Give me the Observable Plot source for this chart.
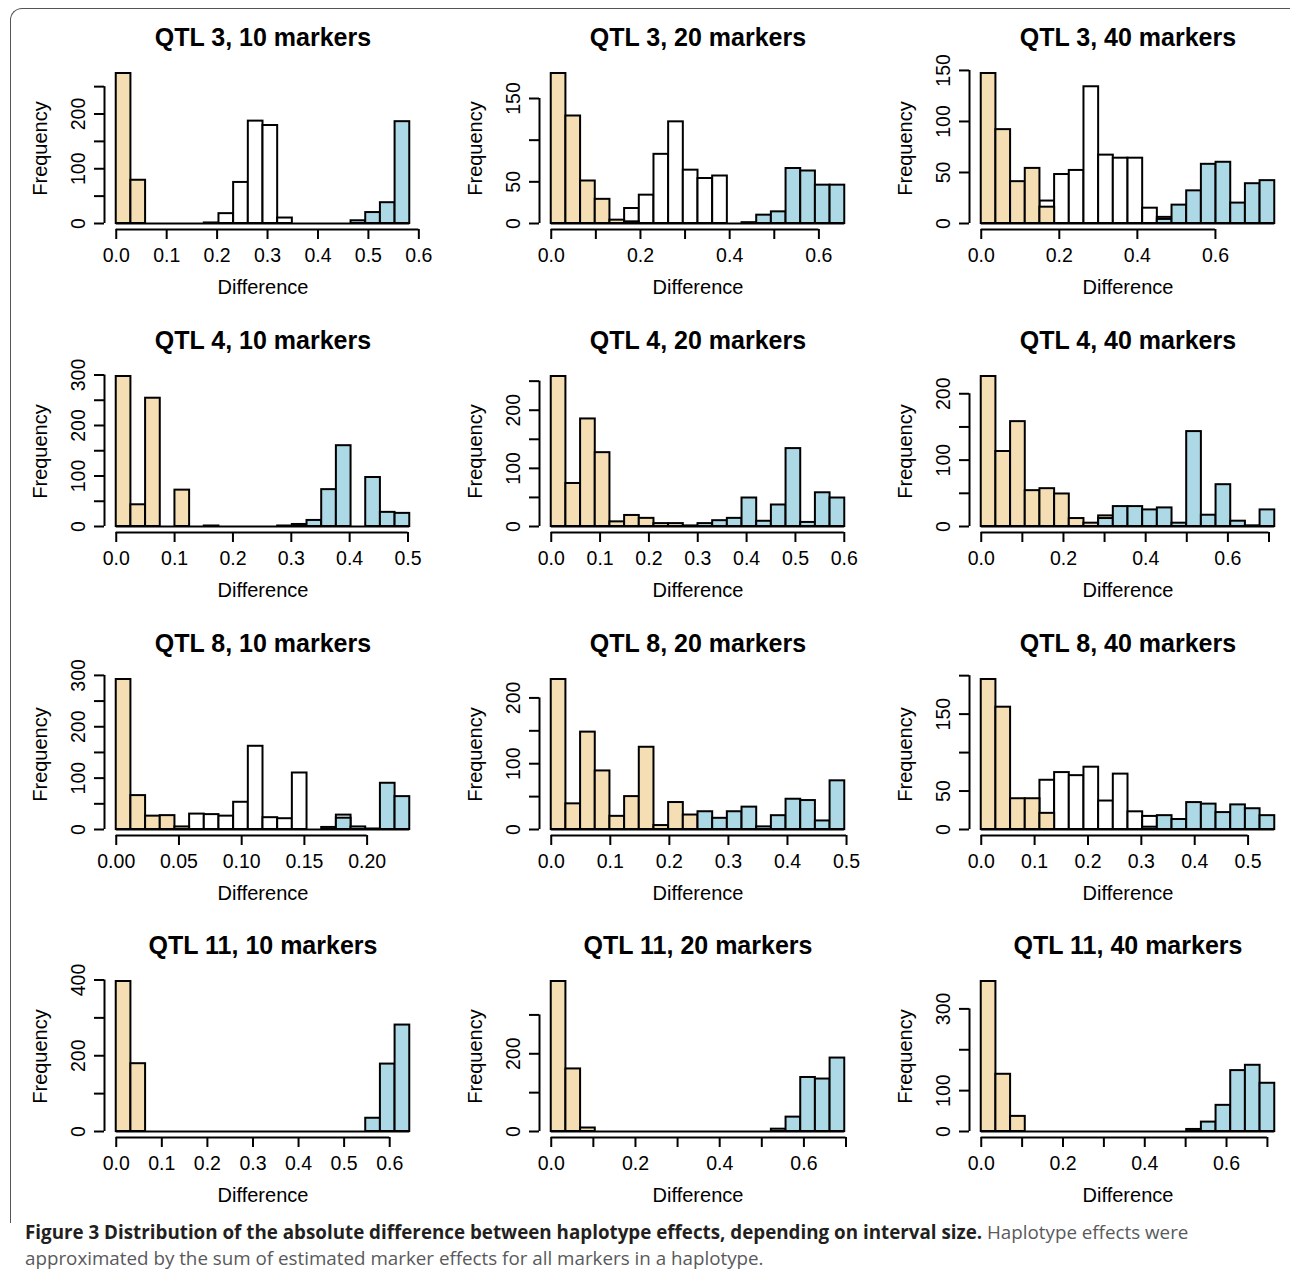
<!DOCTYPE html>
<html><head><meta charset="utf-8">
<script src="https://cdn.jsdelivr.net/npm/d3@7"></script>
<script src="https://cdn.jsdelivr.net/npm/@observablehq/plot@0.6"></script>
<style>
body{margin:0;background:#fff;width:1290px;height:1276px;overflow:hidden;position:relative;font-family:"Liberation Sans",Arial,sans-serif}
#frame{position:absolute;left:10px;top:8px;width:1300px;height:1214px;border:1.5px solid #555;border-right:none;border-bottom:none;border-top-left-radius:12px;}
.panel{position:absolute}
.cap{position:absolute;left:25px;white-space:nowrap;font-family:"Open Sans",sans-serif;font-size:18.8px;line-height:26px;color:#58595b}
.cap .b{color:#231f20;font-weight:700}
</style></head><body>
<div id="frame"></div>
<div id="panels"></div>
<div class="cap" style="top:1219px"><span class="b">Figure 3 Distribution of the absolute difference between haplotype effects, depending on interval size.</span><span> Haplotype effects were</span></div>
<div class="cap" style="top:1245px"><span>approximated by the sum of estimated marker effects for all markers in a haplotype.</span></div>
<script>
// ---- titles ----
const titles = ["QTL 3, 10 markers","QTL 3, 20 markers","QTL 3, 40 markers",
  "QTL 4, 10 markers","QTL 4, 20 markers","QTL 4, 40 markers",
  "QTL 8, 10 markers","QTL 8, 20 markers","QTL 8, 40 markers",
  "QTL 11, 10 markers","QTL 11, 20 markers","QTL 11, 40 markers"];
// upper end of the 20 histogram bins (bins start at 0)
const binMax = [0.582,0.658,0.752, 0.503,0.601,0.714, 0.234,0.497,0.55, 0.644,0.697,0.718];

// ---- counts per bin (20 bins) ----
const qtl3_m10_white = [0,0,0,0,0,0,1,18,75,187,179,10,0,0,0,0,0,0,0,0];
const qtl3_m10_tan   = [274,79,0,0,0,0,0,0,0,0,0,0,0,0,0,0,0,0,0,0];
const qtl3_m10_blue  = [0,0,0,0,0,0,0,0,0,0,0,0,0,0,0,0,5,20,38,186];

const qtl3_m20_white = [0,0,0,0,0,18,34,83,122,64,54,57,0,0,0,0,0,0,0,0];
const qtl3_m20_tan   = [180,129,51,29,4,2,0,0,0,0,0,0,0,0,0,0,0,0,0,0];
const qtl3_m20_blue  = [0,0,0,0,0,0,0,0,0,0,0,0,0,1,10,14,66,63,46,46];

const qtl3_m40_white = [0,0,0,0,22,48,52,134,67,64,64,15,6,0,0,0,0,0,0,0];
const qtl3_m40_tan   = [147,92,41,54,16,0,0,0,0,0,0,0,0,0,0,0,0,0,0,0];
const qtl3_m40_blue  = [0,0,0,0,0,0,0,0,0,0,0,0,4,18,32,58,60,20,39,42];

const qtl4_m10_white = [0,0,0,0,0,0,0,0,0,0,0,1,0,0,0,0,0,0,0,0];
const qtl4_m10_tan   = [297,43,254,0,72,0,1,0,0,0,0,0,0,0,0,0,0,0,0,0];
const qtl4_m10_blue  = [0,0,0,0,0,0,0,0,0,0,0,0,4,12,73,160,0,97,28,26];

const qtl4_m20_white = [0,0,0,0,0,0,0,0,0,0,0,0,0,0,0,0,0,0,0,0];
const qtl4_m20_tan   = [258,74,185,127,8,19,14,5,5,1,0,0,0,0,0,0,0,0,0,0];
const qtl4_m20_blue  = [0,0,0,0,0,0,0,0,0,0,5,10,14,49,9,37,134,7,58,49];

const qtl4_m40_white = [0,0,0,0,0,0,0,0,0,0,0,0,0,0,0,0,0,0,0,0];
const qtl4_m40_tan   = [226,113,158,54,57,49,12,5,16,0,0,0,0,0,0,0,0,0,0,0];
const qtl4_m40_blue  = [0,0,0,0,0,0,0,0,12,30,30,25,28,5,143,17,63,8,1,25];

const qtl8_m10_white = [0,0,0,0,0,30,29,26,53,162,23,21,110,0,0,28,0,0,0,0];
const qtl8_m10_tan   = [292,66,26,27,5,0,0,0,0,0,0,0,0,0,0,0,0,0,0,0];
const qtl8_m10_blue  = [0,0,0,0,0,0,0,0,0,0,0,0,0,0,4,22,5,1,90,64];

const qtl8_m20_white = [0,0,0,0,0,0,0,0,0,0,0,0,0,0,0,0,0,0,0,0];
const qtl8_m20_tan   = [228,39,148,89,20,50,125,6,41,22,0,0,0,0,0,0,0,0,0,0];
const qtl8_m20_blue  = [0,0,0,0,0,0,0,0,0,0,27,17,27,34,4,21,46,44,13,74];

const qtl8_m40_white = [0,0,0,0,64,74,70,81,37,72,23,17,0,0,0,0,0,0,0,0];
const qtl8_m40_tan   = [195,159,40,40,21,0,0,0,0,0,0,0,0,0,0,0,0,0,0,0];
const qtl8_m40_blue  = [0,0,0,0,0,0,0,0,0,0,0,3,18,13,35,33,22,32,27,18];

const qtl11_m10_white = [0,0,0,0,0,0,0,0,0,0,0,0,0,0,0,0,0,0,0,0];
const qtl11_m10_tan   = [396,179,0,0,0,0,0,0,0,0,0,0,0,0,0,0,0,0,0,0];
const qtl11_m10_blue  = [0,0,0,0,0,0,0,0,0,0,0,0,0,0,0,0,0,35,178,281];

const qtl11_m20_white = [0,0,0,0,0,0,0,0,0,0,0,0,0,0,0,0,0,0,0,0];
const qtl11_m20_tan   = [386,161,9,0,0,0,0,0,0,0,0,0,0,0,0,0,0,0,0,0];
const qtl11_m20_blue  = [0,0,0,0,0,0,0,0,0,0,0,0,0,0,0,6,37,139,135,189];

const qtl11_m40_white = [0,0,0,0,0,0,0,0,0,0,0,0,0,0,0,0,0,0,0,0];
const qtl11_m40_tan   = [367,140,37,0,0,0,0,0,0,0,0,0,0,0,0,0,0,0,0,0];
const qtl11_m40_blue  = [0,0,0,0,0,0,0,0,0,0,0,0,0,0,5,23,64,149,162,118];

// ---- axis ticks and labels ----
const xTicks = [
  [0,0.1,0.2,0.3,0.4,0.5,0.6],[0,0.1,0.2,0.3,0.4,0.5,0.6],[0,0.2,0.4,0.6],
  [0,0.1,0.2,0.3,0.4,0.5],[0,0.1,0.2,0.3,0.4,0.5,0.6],[0,0.1,0.2,0.3,0.4,0.5,0.6,0.7],
  [0,0.05,0.1,0.15,0.2],[0,0.1,0.2,0.3,0.4,0.5],[0,0.1,0.2,0.3,0.4,0.5],
  [0,0.1,0.2,0.3,0.4,0.5,0.6],[0,0.1,0.2,0.3,0.4,0.5,0.6,0.7],[0,0.1,0.2,0.3,0.4,0.5,0.6,0.7]];
const xLabels = [
  ["0.0","0.1","0.2","0.3","0.4","0.5","0.6"],["0.0","0.2","0.4","0.6"],["0.0","0.2","0.4","0.6"],
  ["0.0","0.1","0.2","0.3","0.4","0.5"],["0.0","0.1","0.2","0.3","0.4","0.5","0.6"],["0.0","0.2","0.4","0.6"],
  ["0.00","0.05","0.10","0.15","0.20"],["0.0","0.1","0.2","0.3","0.4","0.5"],["0.0","0.1","0.2","0.3","0.4","0.5"],
  ["0.0","0.1","0.2","0.3","0.4","0.5","0.6"],["0.0","0.2","0.4","0.6"],["0.0","0.2","0.4","0.6"]];
const yTicks = [
  [0,50,100,150,200,250],[0,50,100,150],[0,50,100,150],
  [0,50,100,150,200,250,300],[0,50,100,150,200,250],[0,50,100,150,200],
  [0,50,100,150,200,250,300],[0,50,100,150,200],[0,50,100,150,200],
  [0,100,200,300,400],[0,100,200,300],[0,100,200,300]];
const yLabels = [
  [0,100,200],[0,50,150],[0,50,100,150],
  [0,100,200,300],[0,100,200],[0,100,200],
  [0,100,200,300],[0,100,200],[0,50,150],
  [0,200,400],[0,200],[0,100,300]];

const whites = [qtl3_m10_white,qtl3_m20_white,qtl3_m40_white,qtl4_m10_white,qtl4_m20_white,qtl4_m40_white,qtl8_m10_white,qtl8_m20_white,qtl8_m40_white,qtl11_m10_white,qtl11_m20_white,qtl11_m40_white];
const tans = [qtl3_m10_tan,qtl3_m20_tan,qtl3_m40_tan,qtl4_m10_tan,qtl4_m20_tan,qtl4_m40_tan,qtl8_m10_tan,qtl8_m20_tan,qtl8_m40_tan,qtl11_m10_tan,qtl11_m20_tan,qtl11_m40_tan];
const blues = [qtl3_m10_blue,qtl3_m20_blue,qtl3_m40_blue,qtl4_m10_blue,qtl4_m20_blue,qtl4_m40_blue,qtl8_m10_blue,qtl8_m20_blue,qtl8_m40_blue,qtl11_m10_blue,qtl11_m20_blue,qtl11_m40_blue];

const FONT = "'Liberation Sans', Arial, Helvetica, sans-serif";
const LW = 2;
function bars(counts, w) {
  return counts.map((c, i) => ({x1: i * w, x2: (i + 1) * w, y: c})).filter(d => d.y > 0);
}
const container = document.getElementById("panels");
const colLeft = [0, 435, 865];
const rowTop = [0, 303, 606, 908];

titles.forEach((title, i) => {
  const xMax = binMax[i];
  const w = xMax / 20;
  const yMax = d3.max([...whites[i], ...tans[i], ...blues[i]]);
  const xDom = [-0.04 * xMax, 1.04 * xMax];
  const yDom = [-0.04 * yMax, 1.04 * yMax];
  const xt = xTicks[i], yt = yTicks[i];
  const chart = Plot.plot({
    width: 425, height: 303,
    marginLeft: 104, marginRight: 4, marginTop: 67, marginBottom: 74,
    x: {domain: xDom, axis: null},
    y: {domain: yDom, axis: null},
    style: {fontFamily: FONT, background: "transparent", overflow: "visible", color: "black"},
    marks: [
      Plot.ruleY([0], {x1: 0, x2: xMax, stroke: "black", strokeWidth: LW}),
      Plot.rectY(bars(whites[i], w), {x1: "x1", x2: "x2", y1: 0, y2: "y", fill: "white", stroke: "black", strokeWidth: LW}),
      Plot.rectY(bars(tans[i], w), {x1: "x1", x2: "x2", y1: 0, y2: "y", fill: "#f5deb3", stroke: "black", strokeWidth: LW}),
      Plot.rectY(bars(blues[i], w), {x1: "x1", x2: "x2", y1: 0, y2: "y", fill: "#add8e6", stroke: "black", strokeWidth: LW}),
      Plot.ruleY([yDom[0]], {x1: xt[0], x2: xt[xt.length - 1], stroke: "black", strokeWidth: LW}),
      Plot.ruleX([xDom[0]], {y1: yt[0], y2: yt[yt.length - 1], stroke: "black", strokeWidth: LW}),
      Plot.axisX(xt, {tickSize: 10, tickFormat: () => "", label: null, strokeWidth: LW, stroke: "black"}),
      Plot.axisY(yt, {tickSize: 10, tickFormat: () => "", label: null, strokeWidth: LW, stroke: "black"}),
      Plot.text(xLabels[i], {x: d => +d, text: d => d, frameAnchor: "bottom", dy: 26, lineAnchor: "middle", textAnchor: "middle", fontSize: 19.5, fill: "black"}),
      Plot.text(yLabels[i], {y: d => d, text: d => String(d), frameAnchor: "left", dx: -26, rotate: -90, lineAnchor: "middle", textAnchor: "middle", fontSize: 19.5, fill: "black"}),
      Plot.text([title], {frameAnchor: "top", dy: -30, lineAnchor: "middle", textAnchor: "middle", fontSize: 25, fontWeight: "bold", fill: "black"}),
      Plot.text(["Frequency"], {frameAnchor: "left", dx: -64, rotate: -90, lineAnchor: "middle", textAnchor: "middle", fontSize: 20, fill: "black"}),
      Plot.text(["Difference"], {frameAnchor: "bottom", dy: 58, lineAnchor: "middle", textAnchor: "middle", fontSize: 20, fill: "black"})
    ]
  });
  const div = document.createElement("div");
  div.className = "panel";
  div.style.left = colLeft[i % 3] + "px";
  div.style.top = rowTop[Math.floor(i / 3)] + "px";
  div.appendChild(chart);
  container.appendChild(div);
});
</script>
</body></html>
